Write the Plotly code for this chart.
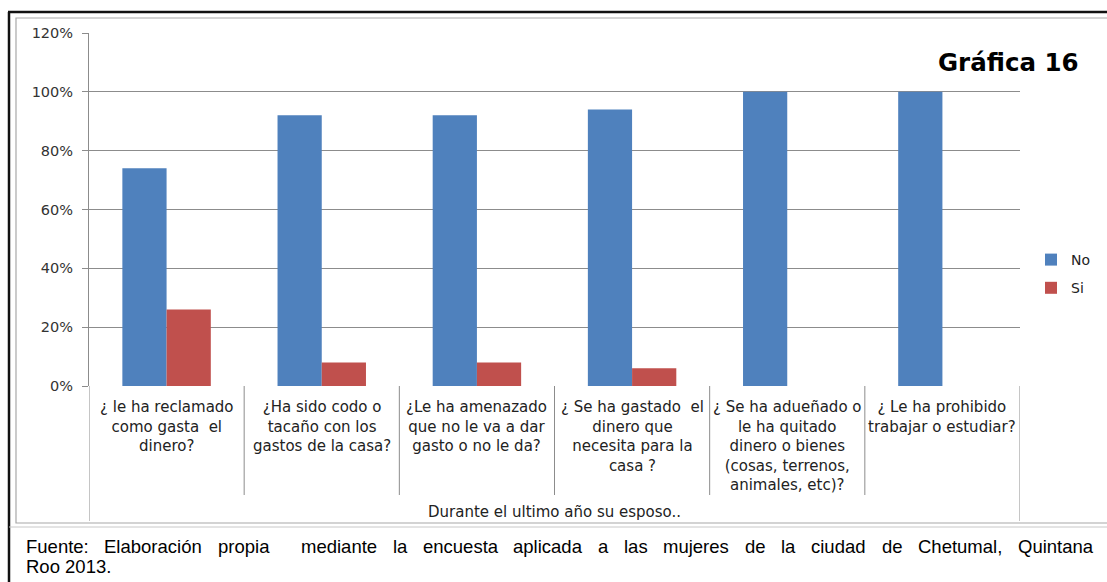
import plotly.graph_objects as go

categories = [
    "¿ le ha reclamado<br>como gasta  el<br>dinero?",
    "¿Ha sido codo o<br>tacaño con los<br>gastos de la casa?",
    "¿Le ha amenazado<br>que no le va a dar<br>gasto o no le da?",
    "¿ Se ha gastado  el<br>dinero que<br>necesita para la<br>casa ?",
    "¿ Se ha adueñado o<br>le ha quitado<br>dinero o bienes<br>(cosas, terrenos,<br>animales, etc)?",
    "¿ Le ha prohibido<br>trabajar o estudiar?",
]
no_vals = [0.74, 0.92, 0.92, 0.94, 1.00, 1.00]
si_vals = [0.26, 0.08, 0.08, 0.06, 0.00, 0.00]
y_ticks = [0, 0.2, 0.4, 0.6, 0.8, 1.0, 1.2]
y_tick_labels = ["0%", "20%", "40%", "60%", "80%", "100%", "120%"]
group_label = "Durante el ultimo año su esposo.."
title_text = "Gráfica 16"
source_line1 = "Fuente: Elaboración propia  mediante la encuesta aplicada a las mujeres de la ciudad de Chetumal, Quintana"
source_line2 = "Roo 2013."

W, H = 1107, 582
L, R, T, B = 89, 1020, 33, 386
FONT = "DejaVu Sans"

def px_x(p):
    return (p - L) / (R - L)

def px_y(p):
    return (B - p) / (B - T)

xs = list(range(len(categories)))

fig = go.Figure()
fig.add_trace(go.Bar(x=xs, y=no_vals, name="No", legendgroup="no",
                     marker=dict(color="#4F81BD", line=dict(width=0))))
fig.add_trace(go.Bar(x=xs, y=si_vals, name="Si", legendgroup="si",
                     marker=dict(color="#C0504D", line=dict(width=0))))

shapes = []
# outer black frame (left + top)
shapes.append(dict(type="line", xref="paper", yref="paper", x0=px_x(9), x1=px_x(9), y0=px_y(12), y1=px_y(590),
                   line=dict(color="#111", width=2.5)))
shapes.append(dict(type="line", xref="paper", yref="paper", x0=px_x(8), x1=px_x(1115), y0=px_y(12), y1=px_y(12),
                   line=dict(color="#111", width=2.5)))
# chart area gray frame
shapes.append(dict(type="rect", xref="paper", yref="paper", x0=px_x(16), x1=px_x(1120), y0=px_y(18), y1=px_y(523),
                   line=dict(color="#A8A8A8", width=1.2), fillcolor="rgba(0,0,0,0)"))
shapes.append(dict(type="line", xref="paper", yref="paper", x0=px_x(9), x1=px_x(1115), y0=px_y(527), y1=px_y(527),
                   line=dict(color="#C8C8C8", width=1)))
# category dividers
for i in range(len(categories) + 1):
    bottom = 521 if i in (0, len(categories)) else 495
    shapes.append(dict(type="line", xref="x", yref="paper", x0=i - 0.5, x1=i - 0.5, y0=0, y1=px_y(bottom),
                       line=dict(color="#8C8C8C", width=1)))

annotations = []
for i, c in enumerate(categories):
    annotations.append(dict(x=i, y=0, xref="x", yref="paper", text=c, showarrow=False, yanchor="top",
                            yshift=-10, align="center", font=dict(family=FONT, size=15, color="#222")))
annotations.append(dict(x=0.5, y=px_y(512), xref="paper", yref="paper", text=group_label, showarrow=False,
                        yanchor="middle", font=dict(family=FONT, size=15, color="#222")))
annotations.append(dict(x=px_x(1081), y=px_y(62), xref="paper", yref="paper", text="<b>" + title_text + "</b>",
                        showarrow=False, xanchor="right", yanchor="middle",
                        font=dict(family="DejaVu Sans", size=24.5, color="#000")))

# justified source line (Arial / Liberation Sans advance widths per 1000 em)
SRC_SIZE = 18.5
ARIAL_W = {" ": 278, ":": 278, ",": 278, ".": 278, "F": 611, "E": 667, "C": 722, "Q": 778, "R": 722,
           "l": 222, "i": 222, "j": 222, "t": 278, "r": 333, "c": 500, "s": 500, "m": 833}
def text_w(s):
    return sum(ARIAL_W.get(ch, 556) for ch in s) * SRC_SIZE / 1000.0

src_font = dict(family="Liberation Sans", size=SRC_SIZE, color="#000")
words = source_line1.split(" ")
x_left, x_right = 25, 1092
gap = (x_right - x_left - sum(text_w(w) for w in words)) / (len(words) - 1)
cx = x_left
for w in words:
    if w:
        annotations.append(dict(x=px_x(cx), y=px_y(546), xref="paper", yref="paper", text=w, showarrow=False,
                                xanchor="left", yanchor="middle", borderpad=0, font=src_font))
    cx += text_w(w) + gap
annotations.append(dict(x=px_x(x_left), y=px_y(567), xref="paper", yref="paper", text=source_line2,
                        showarrow=False, xanchor="left", yanchor="middle", borderpad=0, font=src_font))

fig.update_layout(
    width=W, height=H,
    margin=dict(l=L, r=W - R, t=T, b=H - B, autoexpand=False),
    paper_bgcolor="white", plot_bgcolor="white",
    barmode="group", bargap=0.43, bargroupgap=0,
    xaxis=dict(range=[-0.5, len(categories) - 0.5], showticklabels=False, showgrid=False, zeroline=False,
               showline=False, ticks=""),
    yaxis=dict(range=[0, 1.2], tickvals=y_ticks, ticktext=y_tick_labels, showgrid=True, gridcolor="#8C8C8C",
               gridwidth=1, zeroline=False, showline=True, linecolor="#8C8C8C", linewidth=1,
               ticks="outside", ticklen=6, tickcolor="#8C8C8C", ticklabelstandoff=6,
               tickfont=dict(family=FONT, size=14.5, color="#333")),
    legend=dict(x=px_x(1031), y=px_y(244), xanchor="left", yanchor="top",
                font=dict(family=FONT, size=14, color="#222"), traceorder="grouped",
                itemwidth=30, tracegroupgap=7, bgcolor="rgba(0,0,0,0)"),
    shapes=shapes, annotations=annotations,
    showlegend=True,
)

fig.write_html("out.html", config={"displayModeBar": False},
               post_script="document.body.style.margin='0';")
